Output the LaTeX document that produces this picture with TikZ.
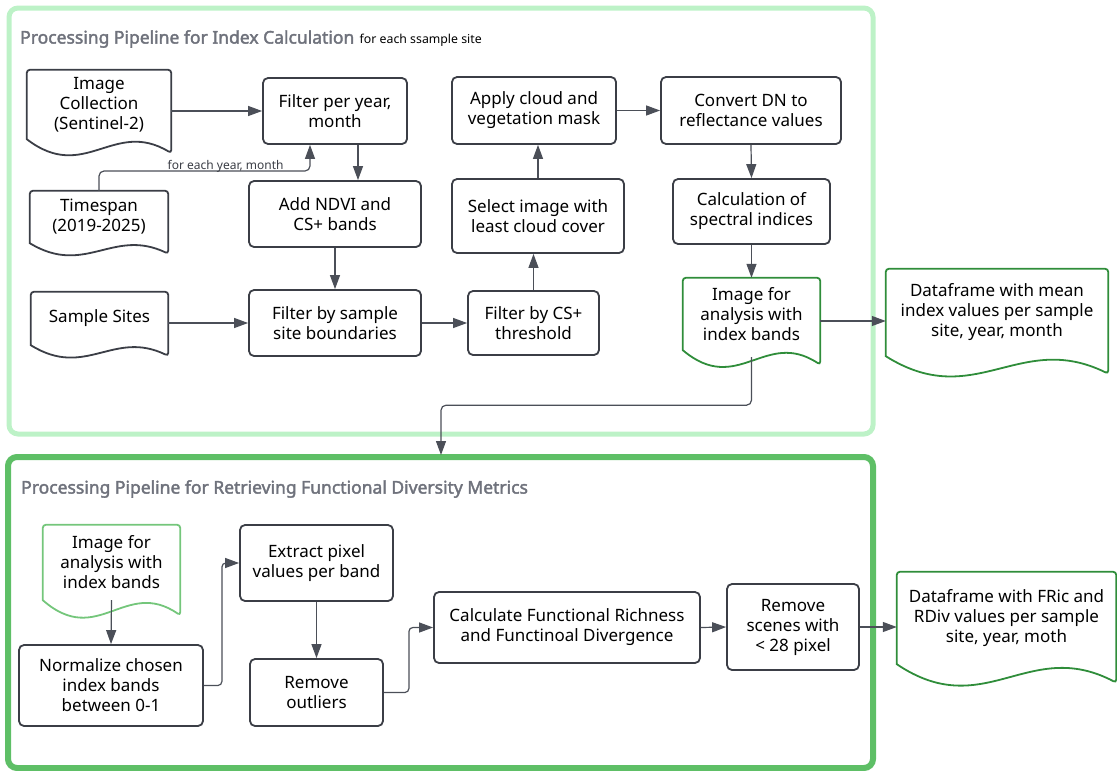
\documentclass[tikz,border=0pt]{standalone}
\usepackage{fontspec}
\setmainfont{Noto Sans}[AutoFakeBold=2.2]
\usetikzlibrary{arrows.meta, calc}
\definecolor{boxline}{HTML}{3B3E46}
\definecolor{arrowgray}{HTML}{4B4F58}
\definecolor{titlegray}{HTML}{6F727C}
\definecolor{paleframe}{HTML}{BDF2C7}
\definecolor{greenframe}{HTML}{5EBF66}
\definecolor{docgreen}{HTML}{2F8D3A}
\definecolor{lightdocgreen}{HTML}{74C67B}
\tikzstyle{arrow} = [line width=1.2pt, draw=arrowgray, ->, >={Triangle[length=14pt,width=10pt]}]

% wavy bottom outline of a document node
\newcommand{\docoutline}[2]{%
  \draw[#2, rounded corners=3pt] let \p1=(#1.south west), \p2=(#1.north east),
      \n1={0.2*(\y2-\y1)}, \n2={\x2-\x1} in
    (\x1,\y1) -- (\x1,\y2) -- (\x2,\y2) -- (\x2,\y1-\n1) [sharp corners]
    .. controls (\x1+0.6*\n2,\y1+1.5*\n1) and (\x1+0.4*\n2,\y1-3.2*\n1) .. (\x1,\y1) -- cycle;}

\begin{document}
\begin{tikzpicture}[x=1pt, y=-1pt, font=\fontsize{17}{20}\selectfont,
    procbox/.style={draw=boxline, line width=1.8pt, rounded corners=5pt, align=center, inner sep=2pt},
    docnode/.style={align=center, inner sep=2pt},
    docline/.style={draw=boxline, line width=1.8pt},
    maintitle/.style={font=\fontsize{17.5}{20}\selectfont\bfseries, text=titlegray, inner sep=0pt}]
\useasboundingbox (0,0) rectangle (1117,771);

\draw[line width=5pt, draw=paleframe, rounded corners=9pt] (9,8) rectangle (873,434);
\draw[line width=6pt, draw=greenframe, rounded corners=9pt] (8,457) rectangle (873,768);

\node[maintitle, anchor=west] (titleidx) at (20,39) {Processing Pipeline for Index Calculation};
\node[anchor=base west, inner sep=0pt, font=\fontsize{12.3}{14}\selectfont] (titlenote) at ([xshift=5pt]titleidx.base east) {for each ssample site};
\node[maintitle, anchor=west] (titlefd) at (21,489) {Processing Pipeline for Retrieving Functional Diversity Metrics};

% upper pipeline
\node[docnode, minimum width=144pt, minimum height=69pt] (imgcol) at (99,104.5) {Image\\Collection\\(Sentinel-2)};
\node[docnode, minimum width=138pt, minimum height=52pt] (timespan) at (99,217) {Timespan\\(2019-2025)};
\node[docnode, minimum width=137pt, minimum height=53pt] (samplesites) at (99.5,318.5) {Sample Sites};
\node[procbox, minimum width=144pt, minimum height=66pt] (filtertime) at (335,111) {Filter per year,\\month};
\node[procbox, minimum width=172pt, minimum height=66pt] (addndvi) at (335,214) {Add NDVI and\\CS+ bands};
\node[procbox, minimum width=172pt, minimum height=66pt] (filtersite) at (335,323) {Filter by sample\\site boundaries};
\node[procbox, minimum width=131pt, minimum height=64pt] (filtercs) at (533.5,323) {Filter by CS+\\threshold};
\node[procbox, minimum width=172pt, minimum height=74pt] (selectimg) at (538,216) {Select image with\\least cloud cover};
\node[procbox, minimum width=164pt, minimum height=67pt] (applymask) at (534,110.5) {Apply cloud and\\vegetation mask};
\node[procbox, minimum width=180pt, minimum height=67pt] (convertdn) at (751,110.5) {Convert DN to\\reflectance values};
\node[procbox, minimum width=157pt, minimum height=65pt] (calcidx) at (751.5,211.5) {Calculation of\\spectral indices};
\node[docnode, minimum width=137pt, minimum height=72pt] (imgan) at (751.5,314) {Image for\\analysis with\\index bands};
\node[docnode, minimum width=222pt, minimum height=87pt] (dfmean) at (997,312.5) {Dataframe with mean\\index values per sample\\site, year, month};

\docoutline{imgcol}{docline}
\docoutline{timespan}{docline}
\docoutline{samplesites}{docline}
\docoutline{imgan}{docline, draw=docgreen}
\docoutline{dfmean}{docline, draw=docgreen}

% lower pipeline
\node[docnode, minimum width=137pt, minimum height=75pt] (imgan2) at (111.5,562.5) {Image for\\analysis with\\index bands};
\node[procbox, minimum width=184pt, minimum height=81pt] (normalize) at (111,685.5) {Normalize chosen\\index bands\\between 0-1};
\node[procbox, minimum width=153pt, minimum height=76pt] (extract) at (316.5,563) {Extract pixel\\values per band};
\node[procbox, minimum width=133pt, minimum height=67pt] (outliers) at (316.5,692.5) {Remove\\outliers};
\node[procbox, minimum width=266pt, minimum height=71pt] (calcfd) at (567,627.5) {Calculate Functional Richness\\and Functinoal Divergence};
\node[procbox, minimum width=132pt, minimum height=86pt] (scenes) at (793,627) {Remove\\scenes with\\< 28 pixel};
\node[docnode, minimum width=219pt, minimum height=92pt] (dffd) at (1006.5,618) {Dataframe with FRic and\\RDiv values per sample\\site, year, moth};

\docoutline{imgan2}{docline, draw=lightdocgreen}
\docoutline{dffd}{docline, draw=docgreen}

% connectors
\coordinate (yearturn) at (310,171);
\coordinate (timedrop) at ([xshift=23pt]filtertime.south);
\coordinate (imgout) at ([yshift=-7pt]imgan.east);
\coordinate (imgdown) at ([yshift=-7pt]imgan.south);
\coordinate (lowerentry) at (441,455);

\draw[arrow] (imgcol.east |- filtertime.west) -- (filtertime.west);
\draw[arrow, rounded corners=5pt] (timespan.north) |- (yearturn)
    node[pos=0.8, above=-2pt, inner sep=0pt, text=boxline, font=\fontsize{12}{14}\selectfont] {for each year, month}
    -- (yearturn |- filtertime.south);
\draw[arrow] (timedrop) -- (timedrop |- addndvi.north);
\draw[arrow] (addndvi.south) -- (filtersite.north);
\draw[arrow] (samplesites.east |- filtersite.west) -- (filtersite.west);
\draw[arrow] (filtersite.east) -- (filtercs.west);
\draw[arrow] (filtercs.north) -- (filtercs.north |- selectimg.south);
\draw[arrow] (selectimg.north) -- (selectimg.north |- applymask.south);
\draw[arrow] (applymask.east) -- (convertdn.west);
\draw[arrow] (convertdn.south) -- (calcidx.north);
\draw[arrow] (calcidx.south) -- (imgan.north);
\draw[arrow] (imgout) -- (imgout -| dfmean.west);
\draw[arrow, rounded corners=5pt] (imgdown) -- ++(0,48) -| (lowerentry);

\draw[arrow] (imgan2.south) -- (normalize.north);
\draw[arrow, rounded corners=4pt] (normalize.east) -- ++(18,0) |- (extract.west);
\draw[arrow] (extract.south) -- (outliers.north);
\draw[arrow, rounded corners=4pt] (outliers.east) -- ++(25,0) |- (calcfd.west);
\draw[arrow] (calcfd.east) -- (scenes.west);
\draw[arrow] (scenes.east) -- (scenes.east -| dffd.west);
\end{tikzpicture}
\end{document}
